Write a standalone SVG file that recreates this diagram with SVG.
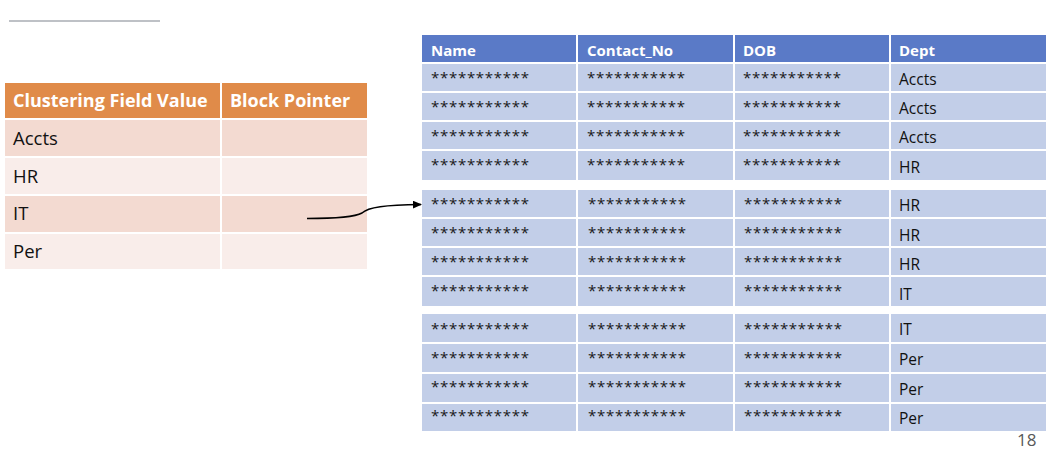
<svg xmlns="http://www.w3.org/2000/svg" width="1056" height="452" viewBox="0 0 1056 452">
<defs>
<style>
.t{font-family:"Open Sans","Noto Sans",sans-serif;}
.lh{fill:#E08B49;}
.ld{fill:#F3DAD1;}
.ll{fill:#F9EDEA;}
.lht{font-size:18px;font-weight:bold;fill:#FFFFFF;}
.lt{font-size:18.5px;fill:#111111;}
.rh{fill:#5A7AC7;}
.rc{fill:#C2CEE8;}
.rht{font-size:15px;font-weight:bold;fill:#FFFFFF;}
.st{font-size:15px;fill:#1A1A1A;}
.dt{font-size:15.5px;fill:#111111;}
</style>
<marker id="arr" markerWidth="10" markerHeight="8" refX="8" refY="4" orient="auto" markerUnits="userSpaceOnUse">
<path d="M0,0 L9,4 L0,8 z" fill="#000000"/>
</marker>
</defs>
<rect width="1056" height="452" fill="#FFFFFF"/>
<line x1="9" y1="21" x2="160" y2="21" stroke="#A9ADB3" stroke-width="1.5"/>

<g id="index-table">
<g id="index-header">
<rect class="lh" x="5" y="83" width="215" height="35"/>
<rect class="lh" x="222" y="83" width="145" height="35"/>
<text class="t lht" x="13" y="107">Clustering Field Value</text>
<text class="t lht" x="230" y="107">Block Pointer</text>
</g>
<g id="index-accts">
<rect class="ld" x="5" y="120" width="215" height="36"/>
<rect class="ld" x="222" y="120" width="145" height="36"/>
<text class="t lt" x="13" y="145">Accts</text>
</g>
<g id="index-hr">
<rect class="ll" x="5" y="158" width="215" height="36"/>
<rect class="ll" x="222" y="158" width="145" height="36"/>
<text class="t lt" x="13" y="183">HR</text>
</g>
<g id="index-it">
<rect class="ld" x="5" y="196" width="215" height="36"/>
<rect class="ld" x="222" y="196" width="145" height="36"/>
<text class="t lt" x="13" y="220">IT</text>
</g>
<g id="index-per">
<rect class="ll" x="5" y="234" width="215" height="35"/>
<rect class="ll" x="222" y="234" width="145" height="35"/>
<text class="t lt" x="13" y="258">Per</text>
</g>
</g>

<g id="data-header">
<rect class="rh" x="422" y="35" width="154" height="27"/>
<rect class="rh" x="578" y="35" width="155" height="27"/>
<rect class="rh" x="735" y="35" width="154" height="27"/>
<rect class="rh" x="891" y="35" width="155" height="27"/>
<text class="t rht" x="431" y="56">Name</text>
<text class="t rht" x="587" y="56">Contact_No</text>
<text class="t rht" x="743" y="56">DOB</text>
<text class="t rht" x="899" y="56">Dept</text>
</g>

<g id="block-1">
<rect class="rc" x="422" y="64" width="154" height="27"/><rect class="rc" x="578" y="64" width="155" height="27"/><rect class="rc" x="735" y="64" width="154" height="27"/><rect class="rc" x="891" y="64" width="155" height="27"/>
<rect class="rc" x="422" y="93" width="154" height="27"/><rect class="rc" x="578" y="93" width="155" height="27"/><rect class="rc" x="735" y="93" width="154" height="27"/><rect class="rc" x="891" y="93" width="155" height="27"/>
<rect class="rc" x="422" y="122" width="154" height="27"/><rect class="rc" x="578" y="122" width="155" height="27"/><rect class="rc" x="735" y="122" width="154" height="27"/><rect class="rc" x="891" y="122" width="155" height="27"/>
<rect class="rc" x="422" y="151" width="154" height="29"/><rect class="rc" x="578" y="151" width="155" height="29"/><rect class="rc" x="735" y="151" width="154" height="29"/><rect class="rc" x="891" y="151" width="155" height="29"/>
<g class="t st">
<text x="431" y="83" textLength="98" lengthAdjust="spacing">***********</text><text x="587" y="83" textLength="98" lengthAdjust="spacing">***********</text><text x="743" y="83" textLength="98" lengthAdjust="spacing">***********</text>
<text x="431" y="112" textLength="98" lengthAdjust="spacing">***********</text><text x="587" y="112" textLength="98" lengthAdjust="spacing">***********</text><text x="743" y="112" textLength="98" lengthAdjust="spacing">***********</text>
<text x="431" y="141" textLength="98" lengthAdjust="spacing">***********</text><text x="587" y="141" textLength="98" lengthAdjust="spacing">***********</text><text x="743" y="141" textLength="98" lengthAdjust="spacing">***********</text>
<text x="431" y="170" textLength="98" lengthAdjust="spacing">***********</text><text x="587" y="170" textLength="98" lengthAdjust="spacing">***********</text><text x="743" y="170" textLength="98" lengthAdjust="spacing">***********</text>
</g>
<g class="t dt">
<text x="899" y="85">Accts</text>
<text x="899" y="114">Accts</text>
<text x="899" y="143">Accts</text>
<text x="899" y="173">HR</text>
</g>
</g>

<g id="block-2">
<rect class="rc" x="422" y="190" width="154" height="27"/><rect class="rc" x="578" y="190" width="155" height="27"/><rect class="rc" x="735" y="190" width="154" height="27"/><rect class="rc" x="891" y="190" width="155" height="27"/>
<rect class="rc" x="422" y="219" width="154" height="27"/><rect class="rc" x="578" y="219" width="155" height="27"/><rect class="rc" x="735" y="219" width="154" height="27"/><rect class="rc" x="891" y="219" width="155" height="27"/>
<rect class="rc" x="422" y="248" width="154" height="27"/><rect class="rc" x="578" y="248" width="155" height="27"/><rect class="rc" x="735" y="248" width="154" height="27"/><rect class="rc" x="891" y="248" width="155" height="27"/>
<rect class="rc" x="422" y="277" width="154" height="29"/><rect class="rc" x="578" y="277" width="155" height="29"/><rect class="rc" x="735" y="277" width="154" height="29"/><rect class="rc" x="891" y="277" width="155" height="29"/>
<g class="t st">
<text x="431" y="209" textLength="98" lengthAdjust="spacing">***********</text><text x="588" y="209" textLength="98" lengthAdjust="spacing">***********</text><text x="744" y="209" textLength="98" lengthAdjust="spacing">***********</text>
<text x="431" y="238" textLength="98" lengthAdjust="spacing">***********</text><text x="588" y="238" textLength="98" lengthAdjust="spacing">***********</text><text x="744" y="238" textLength="98" lengthAdjust="spacing">***********</text>
<text x="431" y="267" textLength="98" lengthAdjust="spacing">***********</text><text x="588" y="267" textLength="98" lengthAdjust="spacing">***********</text><text x="744" y="267" textLength="98" lengthAdjust="spacing">***********</text>
<text x="431" y="296" textLength="98" lengthAdjust="spacing">***********</text><text x="588" y="296" textLength="98" lengthAdjust="spacing">***********</text><text x="744" y="296" textLength="98" lengthAdjust="spacing">***********</text>
</g>
<g class="t dt">
<text x="899" y="211">HR</text>
<text x="899" y="241">HR</text>
<text x="899" y="270">HR</text>
<text x="899" y="300">IT</text>
</g>
</g>

<g id="block-3">
<rect class="rc" x="422" y="314" width="154" height="28"/><rect class="rc" x="578" y="314" width="155" height="28"/><rect class="rc" x="735" y="314" width="154" height="28"/><rect class="rc" x="891" y="314" width="155" height="28"/>
<rect class="rc" x="422" y="344" width="154" height="28"/><rect class="rc" x="578" y="344" width="155" height="28"/><rect class="rc" x="735" y="344" width="154" height="28"/><rect class="rc" x="891" y="344" width="155" height="28"/>
<rect class="rc" x="422" y="374" width="154" height="28"/><rect class="rc" x="578" y="374" width="155" height="28"/><rect class="rc" x="735" y="374" width="154" height="28"/><rect class="rc" x="891" y="374" width="155" height="28"/>
<rect class="rc" x="422" y="404" width="154" height="27"/><rect class="rc" x="578" y="404" width="155" height="27"/><rect class="rc" x="735" y="404" width="154" height="27"/><rect class="rc" x="891" y="404" width="155" height="27"/>
<g class="t st">
<text x="431" y="334" textLength="98" lengthAdjust="spacing">***********</text><text x="588" y="334" textLength="98" lengthAdjust="spacing">***********</text><text x="744" y="334" textLength="98" lengthAdjust="spacing">***********</text>
<text x="431" y="363" textLength="98" lengthAdjust="spacing">***********</text><text x="588" y="363" textLength="98" lengthAdjust="spacing">***********</text><text x="744" y="363" textLength="98" lengthAdjust="spacing">***********</text>
<text x="431" y="392" textLength="98" lengthAdjust="spacing">***********</text><text x="588" y="392" textLength="98" lengthAdjust="spacing">***********</text><text x="744" y="392" textLength="98" lengthAdjust="spacing">***********</text>
<text x="431" y="421" textLength="98" lengthAdjust="spacing">***********</text><text x="588" y="421" textLength="98" lengthAdjust="spacing">***********</text><text x="744" y="421" textLength="98" lengthAdjust="spacing">***********</text>
</g>
<g class="t dt">
<text x="899" y="335">IT</text>
<text x="899" y="365">Per</text>
<text x="899" y="395">Per</text>
<text x="899" y="424">Per</text>
</g>
</g>

<g id="connectors">
<path d="M307,218.5 C335,218.5 355,217 362,213 C368,207 385,205 421,204.5" fill="none" stroke="#000000" stroke-width="1.5" marker-end="url(#arr)"/>
</g>

<text class="t" x="1017" y="446" font-size="17" fill="#595959">18</text>
</svg>
